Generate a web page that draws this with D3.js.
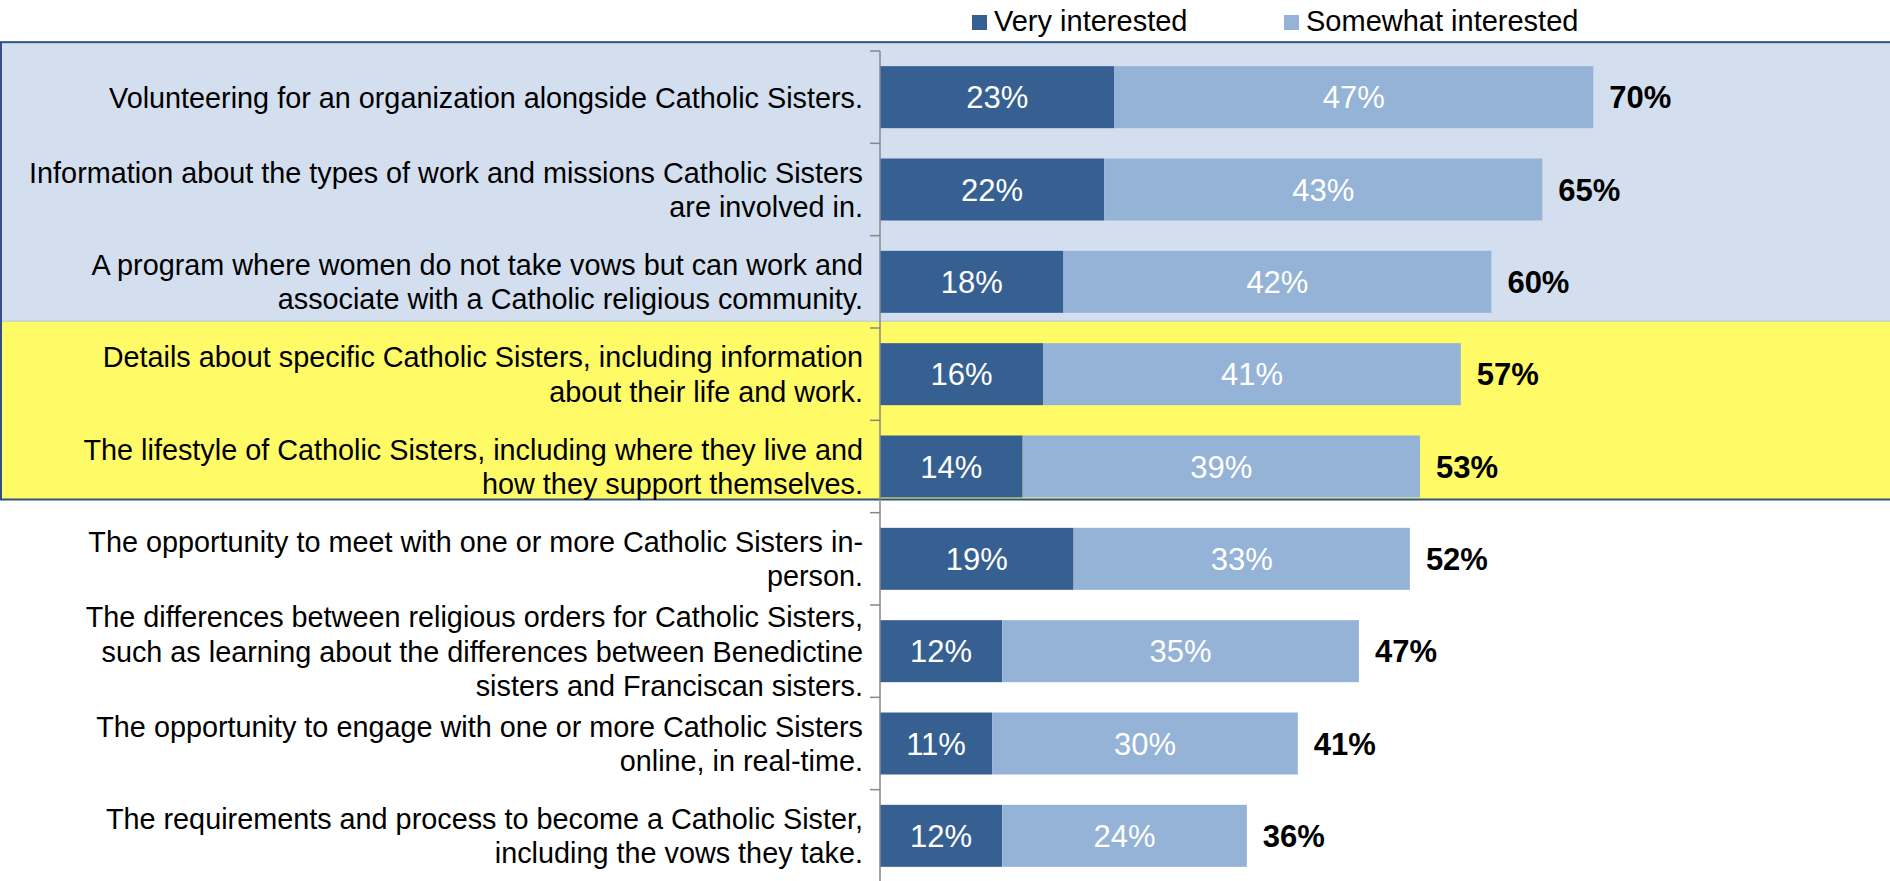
<!DOCTYPE html>
<html>
<head>
<meta charset="utf-8">
<script src="https://cdnjs.cloudflare.com/ajax/libs/d3/7.8.5/d3.min.js"></script>
<style>
  body { margin: 0; background: #fff; }
  text { font-family: Arial, "Liberation Sans", sans-serif; }
</style>
</head>
<body>
<div id="chart-area"></div>
<script>
var categories = [
    ["Volunteering for an organization alongside Catholic Sisters."],
    ["Information about the types of work and missions Catholic Sisters", "are involved in."],
    ["A program where women do not take vows but can work and", "associate with a Catholic religious community."],
    ["Details about specific Catholic Sisters, including information", "about their life and work."],
    ["The lifestyle of Catholic Sisters, including where they live and", "how they support themselves."],
    ["The opportunity to meet with one or more Catholic Sisters in-", "person."],
    ["The differences between religious orders for Catholic Sisters,", "such as learning about the differences between Benedictine", "sisters and Franciscan sisters."],
    ["The opportunity to engage with one or more Catholic Sisters", "online, in real-time."],
    ["The requirements and process to become a Catholic Sister,", "including the vows they take."]
];
var veryInterested = [23, 22, 18, 16, 14, 19, 12, 11, 12];
var somewhatInterested = [47, 43, 42, 41, 39, 33, 35, 30, 24];
var seriesNames = ["Very interested", "Somewhat interested"];
var seriesColors = ["#376092", "#95B3D7"];

var width = 1890;
var height = 881;

var svg = d3.select("#chart-area").append("svg")
    .attr("width", width)
    .attr("height", height);

var data = categories.map(function(lines, i) {
    return {key: i, lines: lines, very: veryInterested[i], some: somewhatInterested[i]};
});

var y = d3.scaleBand()
    .domain(data.map(function(d) { return d.key; }))
    .range([51, 882])
    .paddingInner(0.3285)
    .paddingOuter(0.16425);

var x = d3.scaleLinear()
    .domain([0, 100])
    .range([880, 1899]);

var bw = y.bandwidth();
var gap = (y.step() - bw) / 2;

// highlight boxes
var boxTop = y(0) - 24, boxMid = y(3) - 22, boxBottom = y(4) + bw + 2;
svg.append("rect")
    .attr("x", 0).attr("y", boxTop)
    .attr("width", width).attr("height", boxMid - boxTop)
    .attr("fill", "#D3DFEE");
svg.append("rect")
    .attr("x", 0).attr("y", boxMid)
    .attr("width", width).attr("height", boxBottom - boxMid)
    .attr("fill", "#FFFB66");
svg.append("line")
    .attr("x1", 0).attr("x2", width)
    .attr("y1", boxMid).attr("y2", boxMid)
    .attr("stroke", "#B8C4D2").attr("stroke-width", 1);
svg.append("rect")
    .attr("x", 1).attr("y", boxTop)
    .attr("width", width + 10).attr("height", boxBottom - boxTop)
    .attr("fill", "none")
    .attr("stroke", "#2F5184")
    .attr("stroke-width", 2);

// bars
var rows = svg.selectAll("g.row").data(data).enter()
    .append("g").attr("class", "row");

rows.append("rect")
    .attr("x", x(0))
    .attr("y", function(d) { return y(d.key); })
    .attr("width", function(d) { return x(d.very) - x(0); })
    .attr("height", bw)
    .attr("fill", seriesColors[0]);

rows.append("rect")
    .attr("x", function(d) { return x(d.very); })
    .attr("y", function(d) { return y(d.key); })
    .attr("width", function(d) { return x(d.very + d.some) - x(d.very); })
    .attr("height", bw)
    .attr("fill", seriesColors[1]);

rows.append("text")
    .attr("x", function(d) { return (x(0) + x(d.very)) / 2; })
    .attr("y", function(d) { return y(d.key) + bw / 2; })
    .attr("dy", "0.36em")
    .attr("text-anchor", "middle")
    .attr("fill", "#fff")
    .style("font-size", "31px")
    .text(function(d) { return d.very + "%"; });

rows.append("text")
    .attr("x", function(d) { return (x(d.very) + x(d.very + d.some)) / 2; })
    .attr("y", function(d) { return y(d.key) + bw / 2; })
    .attr("dy", "0.36em")
    .attr("text-anchor", "middle")
    .attr("fill", "#fff")
    .style("font-size", "31px")
    .text(function(d) { return d.some + "%"; });

rows.append("text")
    .attr("x", function(d) { return x(d.very + d.some) + 16; })
    .attr("y", function(d) { return y(d.key) + bw / 2; })
    .attr("dy", "0.36em")
    .attr("fill", "#000")
    .style("font-size", "31px")
    .style("font-weight", "bold")
    .text(function(d) { return (d.very + d.some) + "%"; });

// category labels
var lineH = 34.5;
rows.append("text")
    .attr("text-anchor", "end")
    .attr("fill", "#000")
    .style("font-size", "28.8px")
    .each(function(d) {
        var t = d3.select(this);
        var cy = y(d.key) + bw / 2;
        var n = d.lines.length;
        d.lines.forEach(function(line, j) {
            t.append("tspan")
                .attr("x", 863)
                .attr("y", cy + (j - (n - 1) / 2) * lineH)
                .attr("dy", "0.36em")
                .text(line);
        });
    });

// axis with ticks at category boundaries
var axis = svg.append("g").attr("class", "axis");
axis.append("line")
    .attr("x1", x(0)).attr("x2", x(0))
    .attr("y1", y.range()[0]).attr("y2", y.range()[1])
    .attr("stroke", "#878787").attr("stroke-width", 1.5);
var bounds = data.map(function(d) { return y(d.key) - gap; });
axis.selectAll("line.tick").data(bounds).enter()
    .append("line").attr("class", "tick")
    .attr("x1", x(0) - 10).attr("x2", x(0))
    .attr("y1", function(d) { return d; }).attr("y2", function(d) { return d; })
    .attr("stroke", "#878787").attr("stroke-width", 1.5);

// legend
var legendX = [972, 1284];
var legend = svg.selectAll("g.legend").data(seriesNames).enter()
    .append("g").attr("class", "legend")
    .attr("transform", function(d, i) { return "translate(" + legendX[i] + ",0)"; });
legend.append("rect")
    .attr("x", 0).attr("y", 15)
    .attr("width", 15).attr("height", 15)
    .attr("fill", function(d, i) { return seriesColors[i]; });
legend.append("text")
    .attr("x", 22).attr("y", 31)
    .style("font-size", "29px")
    .attr("fill", "#000")
    .text(function(d) { return d; });
</script>
</body>
</html>
